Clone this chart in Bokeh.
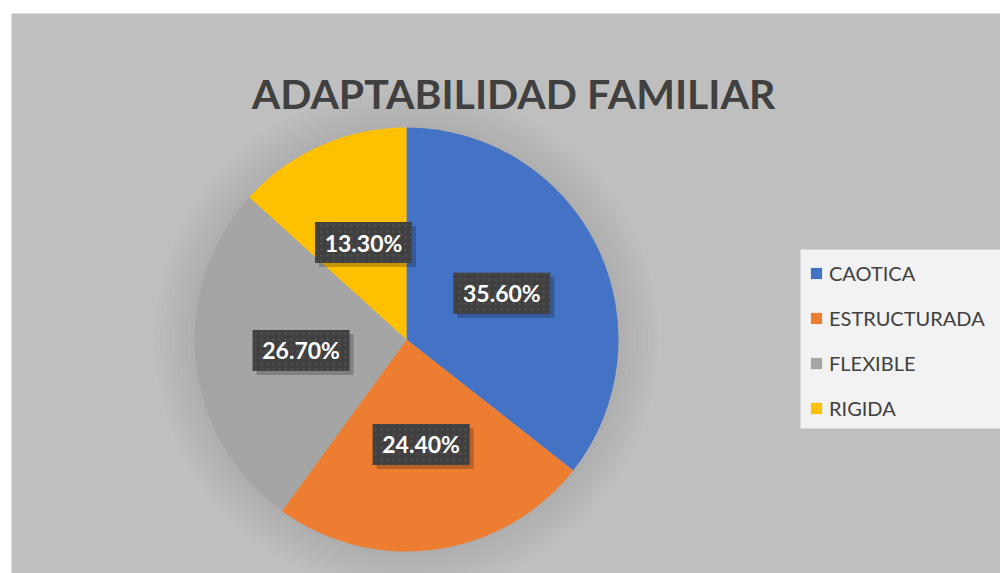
import numpy as np
from bokeh.plotting import figure
from bokeh.models import Range1d, ColumnDataSource, Legend, LegendItem
from bokeh.core.properties import value
from bokeh.embed import file_html
from bokeh.resources import INLINE

# ---- data ----
categories = ["CAOTICA", "ESTRUCTURADA", "FLEXIBLE", "RIGIDA"]
values = [35.6, 24.4, 26.7, 13.3]
labels = ["35.60%", "24.40%", "26.70%", "13.30%"]
colors = ["#4472C4", "#ED7D31", "#A5A5A5", "#FFC000"]
title_text = "ADAPTABILIDAD FAMILIAR"

FONT = "Lato"
W, H = 1000, 573
p = figure(width=W, height=H, output_backend="svg", toolbar_location=None,
           x_axis_location=None, y_axis_location=None,
           x_range=Range1d(11, 1000), y_range=Range1d(0, 560),
           min_border_left=11, min_border_top=13, min_border_right=0, min_border_bottom=0)
p.grid.visible = False
p.outline_line_color = None
p.border_fill_color = "white"
p.background_fill_color = "#BFBFBF"

cx, cy, r = 406.0, 234.0, 212.0

# soft glow/shadow around the pie
for k in range(1, 9):
    p.circle(x=[cx], y=[cy], radius=r + 5 * k, radius_units="screen",
             fill_color="black", fill_alpha=0.009, line_color=None)

vals = np.array(values, dtype=float)
frac = vals / vals.sum()
ends_cum = np.cumsum(frac)
starts_cum = ends_cum - frac
start_ang = np.pi / 2 - starts_cum * 2 * np.pi
end_ang = np.pi / 2 - ends_cum * 2 * np.pi
mid = (start_ang + end_ang) / 2

src = ColumnDataSource(dict(cat=categories, start=start_ang, end=end_ang, color=colors))
wr = p.wedge(x=cx, y=cy, radius=r, radius_units="screen", start_angle="start", end_angle="end",
             direction="clock", fill_color="color", line_color=None, source=src)

lx = cx + 0.5 * r * np.cos(mid)
ly = cy + 0.5 * r * np.sin(mid)
lsrc = ColumnDataSource(dict(x=lx, y=ly, sx=lx + 4, sy=ly - 4, text=labels))
p.rect(x="sx", y="sy", width=97, height=41, width_units="screen", height_units="screen",
       fill_color="black", fill_alpha=0.22, line_color=None, source=lsrc)
p.rect(x="x", y="y", width=97, height=41, width_units="screen", height_units="screen",
       fill_color="#404040", line_color=None, hatch_pattern="dot", hatch_color="#4C4C4C",
       hatch_scale=6, hatch_weight=1, source=lsrc)
p.text(x="x", y="y", text="text", source=lsrc, text_align="center", text_baseline="middle",
       text_color="white", text_font=value(FONT), text_font_style="bold", text_font_size="23px")

# title
p.text(x=[513], y=[480], text=[title_text], text_align="center", text_baseline="middle",
       text_color="#404040", text_font=value(FONT), text_font_style="bold", text_font_size="41px")

# legend panel background
p.rect(x=[905], y=[234.5], width=210, height=179, width_units="screen", height_units="screen",
       fill_color="#F2F2F2", line_color=None)

items = [LegendItem(label=c, renderers=[wr], index=i) for i, c in enumerate(categories)]
legend = Legend(items=items, location=(798, 153), orientation="vertical",
                glyph_width=14, glyph_height=14, label_height=20,
                label_text_font=FONT, label_text_font_size="20px", label_text_color="#404040",
                label_standoff=6, padding=10, spacing=21, margin=0,
                background_fill_alpha=0.0, border_line_color=None)
p.add_layout(legend)

open("out.html", "w").write(file_html(p, INLINE))
